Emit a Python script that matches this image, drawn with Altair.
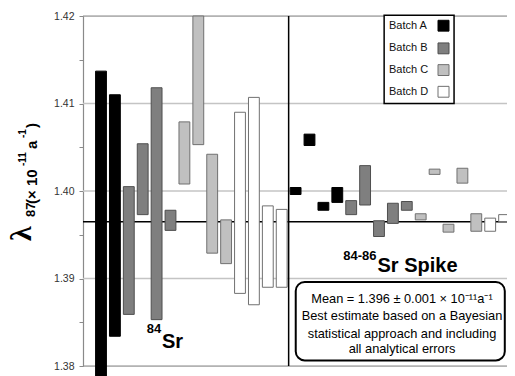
import altair as alt
import pandas as pd

# ---- data ----
batch_84 = ["A", "A", "B", "B", "B", "B", "C", "C", "C", "C", "D", "D", "D", "D"]
hi_84 = [1.4137, 1.4110, 1.4005, 1.4054, 1.4118, 1.3978, 1.4079, 1.4200, 1.4042, 1.3967, 1.4090, 1.4107, 1.3983, 1.3979]
lo_84 = [1.3760, 1.3834, 1.3859, 1.3973, 1.3853, 1.3955, 1.4008, 1.4053, 1.3929, 1.3917, 1.3883, 1.3870, 1.3890, 1.3890]

batch_sp = ["A"] * 4 + ["B"] * 5 + ["C"] * 5 + ["D"] * 3
hi_sp = [1.4004, 1.4065, 1.3987, 1.4004, 1.3989, 1.4029, 1.3966, 1.3986, 1.3988, 1.3974, 1.4025, 1.3962, 1.4026, 1.3974, 1.3969, 1.3973, 1.3965]
lo_sp = [1.3996, 1.4052, 1.3978, 1.3987, 1.3973, 1.3984, 1.3948, 1.3963, 1.3978, 1.3967, 1.4019, 1.3953, 1.4009, 1.3954, 1.3954, 1.3965, 1.3935]

mean_value = 1.3965
grid_values = [1.39, 1.40, 1.41]
frame_values = [1.38, 1.42]
tick_values = [1.38, 1.385, 1.39, 1.395, 1.40, 1.405, 1.41, 1.415, 1.42]

batches = ["A", "B", "C", "D"]
batch_labels = ["Batch A", "Batch B", "Batch C", "Batch D"]
fills = ["#000000", "#7f7f7f", "#c0c0c0", "#ffffff"]
strokes = ["#000000", "#4f4f4f", "#707070", "#707070"]

box_lines = [
    "Mean = 1.396 ± 0.001 × 10⁻¹¹a⁻¹",
    "Best estimate based on a Bayesian",
    "statistical approach and including",
    "all analytical errors",
]

# ---- tables ----
bars = pd.DataFrame({
    "slot": list(range(len(hi_84) + len(hi_sp))),
    "batch": batch_84 + batch_sp,
    "hi": hi_84 + hi_sp,
    "lo": lo_84 + lo_sp,
})

FONT = "Liberation Sans"
xs = alt.Scale(domain=[-1.295, 29.209], nice=False, zero=False)
ys = alt.Scale(domain=[1.38, 1.42], nice=False, zero=False)
fill_scale = alt.Scale(domain=batches, range=fills)
stroke_scale = alt.Scale(domain=batches, range=strokes)

base = alt.Chart(bars)

grid = alt.Chart(pd.DataFrame({"v": grid_values})).mark_rule(
    color="#c4c4c4", strokeWidth=1.5
).encode(y=alt.Y("v:Q", scale=ys))

frame = alt.Chart(pd.DataFrame({"v": frame_values})).mark_rule(
    color="#8a8a8a", strokeWidth=1.2
).encode(y=alt.Y("v:Q", scale=ys))

mean_rule = alt.Chart(pd.DataFrame({"v": [mean_value]})).mark_rule(
    color="#000000", strokeWidth=1.5
).encode(y=alt.Y("v:Q", scale=ys))

divider = alt.Chart(pd.DataFrame({"x": [13.5], "a": [1.38], "b": [1.42]})).mark_rule(
    color="#000000", strokeWidth=1.5
).encode(x=alt.X("x:Q", scale=xs), y=alt.Y("a:Q", scale=ys), y2="b:Q")

rects = base.transform_calculate(
    x0="datum.slot - 0.39", x1="datum.slot + 0.39"
).mark_rect(strokeWidth=1).encode(
    x=alt.X("x0:Q", scale=xs, axis=alt.Axis(
        title=None, labels=False, ticks=False, domain=False, grid=False)),
    x2="x1:Q",
    y=alt.Y("lo:Q", scale=ys, axis=alt.Axis(
        title=None, values=tick_values, grid=False,
        labelExpr="round(datum.value*1000) % 10 == 0 ? format(datum.value, '.2f') : ''",
        labelFont=FONT, labelFontSize=10.5, labelColor="#333333",
        tickSize=4, tickColor="#8a8a8a", labelPadding=5,
        domainColor="#8a8a8a", domainWidth=1.2)),
    y2="hi:Q",
    fill=alt.Fill("batch:N", scale=fill_scale, legend=None),
    stroke=alt.Stroke("batch:N", scale=stroke_scale, legend=None),
)

# ---- legend (built from the same colour scales) ----
leg_box = alt.Chart(pd.DataFrame({"a": [20.37], "b": [25.40], "c": [1.41], "d": [1.4201]})).mark_rect(
    fill="#ffffff", stroke="#000000", strokeWidth=1.5
).encode(x=alt.X("a:Q", scale=xs), x2="b:Q", y=alt.Y("c:Q", scale=ys), y2="d:Q")

leg_y = [1.41889, 1.41630, 1.41382, 1.41134]
leg_df = pd.DataFrame({"batch": batches, "label": batch_labels, "yy": leg_y})
leg_text = alt.Chart(leg_df).mark_text(
    align="left", baseline="middle", font=FONT, fontSize=11, color="#111111"
).encode(x=alt.value(306), y=alt.Y("yy:Q", scale=ys), text="label:N")
leg_sw = alt.Chart(leg_df).transform_calculate(
    y0="datum.yy - 0.00062", y1="datum.yy + 0.00062"
).mark_rect(strokeWidth=1).encode(
    x=alt.value(355), x2=alt.value(366),
    y=alt.Y("y0:Q", scale=ys), y2="y1:Q",
    fill=alt.Fill("batch:N", scale=fill_scale, legend=None),
    stroke=alt.Stroke("batch:N", scale=stroke_scale, legend=None),
)

# ---- mean box ----
mbox = alt.Chart(pd.DataFrame({"a": [14.01], "b": [29.05], "c": [1.38064], "d": [1.3896]})).mark_rect(
    fill="#ffffff", stroke="#000000", strokeWidth=2, cornerRadius=9
).encode(x=alt.X("a:Q", scale=xs), x2="b:Q", y=alt.Y("c:Q", scale=ys), y2="d:Q")

mtext = alt.Chart(pd.DataFrame({"t": box_lines, "yy": [1.38770, 1.38571, 1.38370, 1.38190]})).mark_text(
    align="center", baseline="middle", font=FONT, fontSize=12.8, color="#000000"
).encode(x=alt.value(319), y=alt.Y("yy:Q", scale=ys), text="t:N")

# ---- section labels ----
def label(txt, px, val, size, align="left"):
    return alt.Chart(pd.DataFrame({"t": [txt], "v": [val]})).mark_text(
        align=align, baseline="alphabetic", font=FONT, fontSize=size, fontWeight="bold", color="#000000"
    ).encode(x=alt.value(px), y=alt.Y("v:Q", scale=ys), text="t:N")

lab84a = label("84", 146.7 - 83, 1.38373, 13)
lab84b = label("Sr", 162 - 83, 1.38201, 20)
labspa = label("84-86", 343.3 - 83, 1.39208, 13)
labspb = label("Sr Spike", 377.5 - 83, 1.39074, 20)

# ---- rotated y title pieces ----
def vtext(txt, px, py, size, font=FONT, weight="bold"):
    return alt.Chart(pd.DataFrame({"t": [txt]})).mark_text(
        align="left", baseline="alphabetic", angle=270, font=font, fontSize=size,
        fontWeight=weight, color="#000000"
    ).encode(x=alt.value(px - 83), y=alt.value(py - 16), text="t:N")

t1 = vtext("λ", 31, 241, 30, font="Liberation Serif", weight="bold")
t2 = vtext("87", 34.5, 217, 13)
t3 = vtext("(× 10", 36.5, 204, 15)
t4 = vtext("-11", 26, 166, 10)
t5 = vtext("a", 36.5, 149, 15)
t6 = vtext("-1", 26, 138, 10)
t7 = vtext(")", 36.5, 128, 15)

chart = alt.layer(
    grid, frame, mean_rule, rects, divider,
    leg_box, leg_text, leg_sw, mbox, mtext,
    lab84a, lab84b, labspa, labspb,
    t1, t2, t3, t4, t5, t6, t7,
).properties(
    width=424, height=350,
    autosize=alt.AutoSizeParams(type="none"),
    padding={"left": 75, "top": 8, "right": 0, "bottom": 10},
).configure_view(strokeWidth=0).configure(background="#ffffff")

chart.save("out.html", embed_options={"renderer": "svg", "actions": False})
